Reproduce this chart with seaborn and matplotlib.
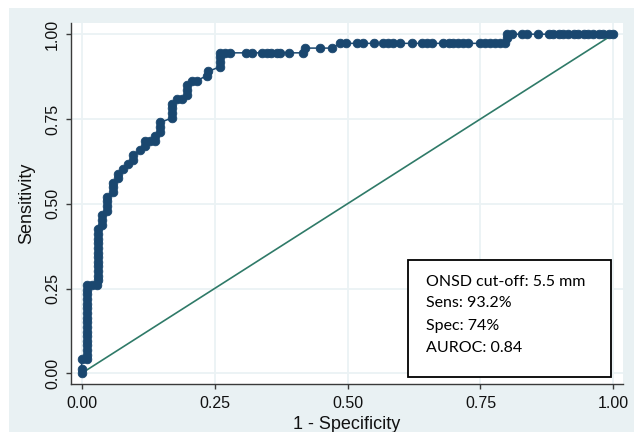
import matplotlib
matplotlib.use("Agg")
import matplotlib.pyplot as plt
from matplotlib.patches import Rectangle
import seaborn as sns
import pandas as pd

# ---- data ----
fpr = [0.000, 0.000, 0.000, 0.0094,
       0.0094, 0.0094, 0.0094, 0.0094, 0.0094, 0.0094, 0.0094, 0.0094,
       0.0094, 0.0094, 0.0094, 0.0094, 0.0094, 0.0094, 0.0094, 0.0094,
       0.019, 0.028,
       0.031, 0.031, 0.031, 0.031, 0.031, 0.031, 0.031, 0.031, 0.031, 0.031, 0.031, 0.031,
       0.038, 0.038, 0.038,
       0.047, 0.047, 0.047, 0.047,
       0.059, 0.059, 0.059,
       0.068, 0.068,
       0.078, 0.087,
       0.097, 0.097,
       0.110,
       0.120, 0.120, 0.129,
       0.138, 0.138,
       0.148, 0.148, 0.148,
       0.170, 0.170, 0.170, 0.170,
       0.179, 0.188,
       0.198, 0.198, 0.198,
       0.207, 0.216,
       0.235, 0.238,
       0.260, 0.260, 0.260, 0.260,
       0.270, 0.279, 0.310, 0.320, 0.339, 0.348, 0.357, 0.367, 0.373, 0.389, 0.417,
       0.420, 0.448, 0.470,
       0.486, 0.498, 0.517, 0.530, 0.549, 0.567, 0.577, 0.586, 0.599, 0.621, 0.640, 0.649,
       0.658, 0.680, 0.690, 0.699, 0.708, 0.718, 0.727, 0.749, 0.759, 0.768, 0.777, 0.787,
       0.796,
       0.800,
       0.800, 0.809, 0.828, 0.837, 0.859, 0.878, 0.887, 0.897, 0.906, 0.915, 0.925, 0.934,
       0.944, 0.953, 0.962, 0.972, 0.981, 0.991, 1.000]
tpr = [0.000, 0.014, 0.041, 0.041,
       0.055, 0.068, 0.082, 0.096, 0.110, 0.123, 0.137, 0.151,
       0.164, 0.178, 0.192, 0.205, 0.219, 0.233, 0.247, 0.260,
       0.260, 0.260,
       0.274, 0.288, 0.301, 0.315, 0.329, 0.342, 0.356, 0.370, 0.384, 0.397, 0.411, 0.425,
       0.438, 0.452, 0.466,
       0.479, 0.493, 0.507, 0.521,
       0.534, 0.548, 0.562,
       0.575, 0.589,
       0.603, 0.616,
       0.630, 0.644,
       0.658,
       0.671, 0.685, 0.685,
       0.685, 0.699,
       0.712, 0.726, 0.740,
       0.753, 0.767, 0.781, 0.795,
       0.808, 0.808,
       0.822, 0.836, 0.849,
       0.863, 0.863,
       0.877, 0.890,
       0.904, 0.918, 0.932, 0.945,
       0.945, 0.945, 0.945, 0.945, 0.945, 0.945, 0.945, 0.945, 0.945, 0.945, 0.945,
       0.959, 0.959, 0.959,
       0.973, 0.973, 0.973, 0.973, 0.973, 0.973, 0.973, 0.973, 0.973, 0.973, 0.973, 0.973,
       0.973, 0.973, 0.973, 0.973, 0.973, 0.973, 0.973, 0.973, 0.973, 0.973, 0.973, 0.973,
       0.973,
       0.988,
       1.000, 1.000, 1.000, 1.000, 1.000, 1.000, 1.000, 1.000, 1.000, 1.000, 1.000, 1.000,
       1.000, 1.000, 1.000, 1.000, 1.000, 1.000, 1.000]
ref_x = [0.0, 1.0]
ref_y = [0.0, 1.0]
tick_vals = [0.0, 0.25, 0.5, 0.75, 1.0]
tick_labels = ["0.00", "0.25", "0.50", "0.75", "1.00"]
box_lines = ["ONSD cut-off: 5.5 mm", "Sens: 93.2%", "Spec: 74%", "AUROC: 0.84"]

roc = pd.DataFrame({"fpr": fpr, "tpr": tpr})
ref = pd.DataFrame({"x": ref_x, "y": ref_y})

plt.rcParams["font.family"] = ["Liberation Sans", "DejaVu Sans"]

BG = "#e9f1f3"
GRID = "#ebf2f4"
NAVY = "#1a476f"
GREEN = "#2f7a68"
AXC = "#3a3a3a"

fig = plt.figure(figsize=(6.34, 4.32), dpi=100, facecolor="white")
fig.patches.append(Rectangle((9 / 634, 0), 1 - 9 / 634, 1 - 8 / 432,
                             transform=fig.transFigure, facecolor=BG,
                             edgecolor="none", zorder=-10))
ax = fig.add_axes([71 / 634, 1 - 384 / 432, (623 - 71) / 634, (384 - 23) / 432])
ax.set_facecolor("white")

sns.lineplot(data=ref, x="x", y="y", ax=ax, color=GREEN, linewidth=1.2,
             estimator=None, sort=False, zorder=2)
sns.lineplot(data=roc, x="fpr", y="tpr", ax=ax, color=NAVY, linewidth=1.1,
             estimator=None, sort=False, marker="o", markersize=6.2,
             markeredgecolor=NAVY, markeredgewidth=0.6, zorder=3)

ax.set_xlim(-0.020, 1.018)
ax.set_ylim(-0.0316, 1.033)
ax.set_xticks(tick_vals)
ax.set_xticklabels(tick_labels)
ax.set_yticks(tick_vals)
ax.set_yticklabels(tick_labels, rotation=90, va="center")
ax.grid(True, color=GRID, linewidth=1.3, zorder=0)
ax.set_axisbelow(True)

for s in ["top", "right"]:
    ax.spines[s].set_visible(False)
for s in ["left", "bottom"]:
    ax.spines[s].set_color(AXC)
    ax.spines[s].set_linewidth(1.0)
ax.tick_params(axis="both", direction="out", length=3.8, width=1.0, color=AXC,
               labelsize=11.5, labelcolor="#111111")
ax.tick_params(axis="x", pad=5)
ax.tick_params(axis="y", pad=4)

ax.set_xlabel("1 - Specificity", fontsize=13, color="#111111")
ax.set_ylabel("Sensitivity", fontsize=13, color="#111111")
ax.xaxis.set_label_coords(0.5, -0.088)
ax.yaxis.set_label_coords(-0.065, 0.5)

# annotation box
ax.add_patch(Rectangle((0.614, -0.011), 0.996 - 0.614, 0.334 + 0.011,
                       facecolor="white", edgecolor="black", linewidth=1.3,
                       zorder=5))
ys = [0.269, 0.206, 0.139, 0.074]
for t, yv in zip(box_lines, ys):
    ax.text(0.647, yv, t, fontsize=11.5, family=["Lato", "DejaVu Sans"],
            va="center", ha="left", color="black", zorder=6)

fig.savefig("out.png", dpi=100, facecolor=fig.get_facecolor())
